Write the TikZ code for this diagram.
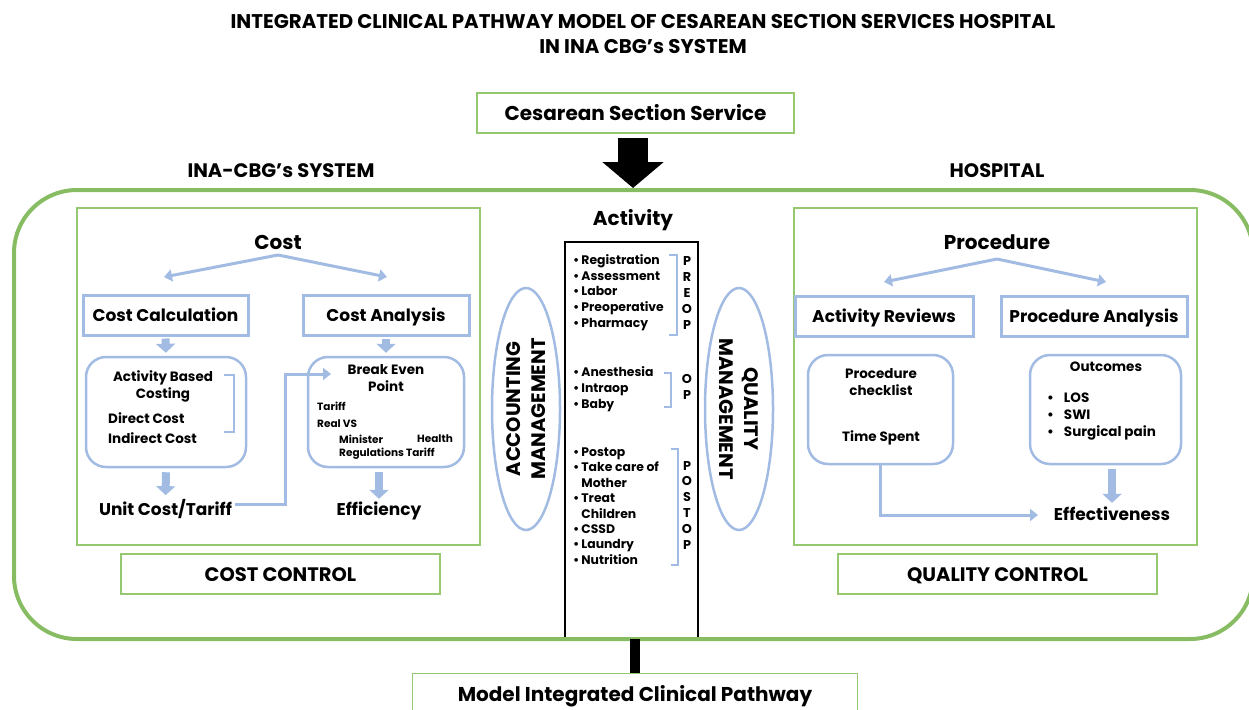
\documentclass[tikz,border=0pt]{standalone}
\usepackage{fontspec}
\setmainfont{Poppins}
\usetikzlibrary{arrows.meta,shapes.geometric}
\definecolor{gbig}{RGB}{136,188,98}
\definecolor{gthin}{RGB}{150,200,112}
\definecolor{lblue}{RGB}{162,187,226}
\newcommand{\bul}{\textbullet\hspace{2pt}}
\begin{document}
\begin{tikzpicture}[x=1pt,y=-1pt,
  sz/.style 2 args={minimum width=#1, minimum height=#2, inner sep=0pt},
  gbox/.style={draw=gthin, line width=1.2pt},
  bbox/.style={draw=lblue, line width=3pt, text height=12pt, text depth=0pt},
  rbox/.style={draw=lblue, line width=2.5pt, rounded corners=20pt},
  txt/.style={inner sep=0pt},
  bthin/.style={draw=lblue, line width=3pt, -{Triangle[length=8pt,width=12pt]}},
  bfat/.style={draw=lblue, line width=8pt, -{Triangle[length=9pt,width=19pt]}},
  blk/.style={draw=black, line width=30pt, -{Triangle[length=26pt,width=60pt]}},
  f20/.style={font=\fontsize{20}{24}\selectfont\bfseries},
  f195/.style={font=\fontsize{19.5}{23}\selectfont\bfseries},
  f165/.style={font=\fontsize{17}{20}\selectfont\bfseries},
  f135/.style={font=\fontsize{13.5}{17}\selectfont\bfseries},
  f105/.style={font=\fontsize{10.5}{15}\selectfont\bfseries},
  f12/.style={font=\fontsize{12.4}{15.75}\selectfont\bfseries},
]
\useasboundingbox (0,0) rectangle (1249,709);
% title
\node[txt, font=\fontsize{19.8}{25}\selectfont\bfseries, align=center] (title) at (643,34) {INTEGRATED CLINICAL PATHWAY MODEL OF CESAREAN SECTION SERVICES HOSPITAL\\IN INA CBG’s SYSTEM};
\node[gbox, sz={317}{40}, f20, text height=14pt, text depth=0pt] (ces) at (635.5,113) {Cesarean Section Service};
\node[txt, f195] (ina) at (281,171) {INA-CBG’s SYSTEM};
\node[txt, f195] (hosp) at (997,171) {HOSPITAL};
% center column frame (drawn first, bottom edge hidden under big box)
\node[sz={133}{397}] (col) at (631.5,440.5) {};
\draw[black, line width=2.5pt] (col.south west) -- (col.north west) -- (col.north east) -- (col.south east);
% big box
\node[draw=gbig, line width=4pt, rounded corners=63pt, sz={1239}{449}] (big) at (633.5,414.5) {};
\coordinate (arrTop) at (633,138);
\draw[blk] (arrTop) -- (arrTop |- big.north);
% left panel
\node[gbox, sz={403}{337}] (lpanel) at (278.5,376.5) {};
\node[txt, f20] (cost) at (278,242) {Cost};
\coordinate (costApex) at (278,255);
\coordinate (costL) at (164,277);
\coordinate (costR) at (387,277);
\draw[bthin] (costApex) -- (costL);
\draw[bthin] (costApex) -- (costR);
\node[bbox, sz={165}{40}, f165] (calc) at (165.5,315) {Cost Calculation};
\node[bbox, sz={166}{40}, f165] (anal) at (386,315) {Cost Analysis};
\node[rbox, sz={160}{110}] (abc) at (166,412) {};
\node[rbox, sz={156}{110}] (bep) at (386,412) {};
\draw[bfat, shorten <=2pt, shorten >=3pt] (calc.south) -- (abc.north);
\draw[bfat, shorten <=2pt, shorten >=3pt] (anal.south) -- (abc.north -| anal.south);
\node[txt, f135, align=center] (abct) at (163,386) {Activity Based\\Costing};
\node[txt, f135, anchor=west] (dc) at (108,418) {Direct Cost};
\node[txt, f135, anchor=west] (ic) at (108,438) {Indirect Cost};
\draw[draw=lblue, line width=2.5pt] (224,375) -- (234,375) -- (234,432) -- (224,432);
\node[txt, f135, align=center] (bept) at (386,378) {Break Even\\Point};
\node[txt, f105, anchor=west] (tar) at (317,406) {Tariff};
\node[txt, f105, anchor=west] (rvs) at (317,424) {Real VS};
\node[txt, f105, anchor=west] (min) at (339,439) {Minister};
\node[txt, f105, anchor=west] (hea) at (417,439) {Health};
\node[txt, f105, anchor=west] (reg) at (339,454) {Regulations Tariff};
\node[txt, f165] (unit) at (165.5,509) {Unit Cost/Tariff};
\node[txt, f165, text height=12pt, text depth=0pt] (eff) at (379,509) {Efficiency};
\draw[bfat, shorten <=4pt, shorten >=4pt] (abc.south) -- (unit.north);
\draw[bfat, shorten <=4pt, shorten >=4pt] (eff.north |- bep.south) -- (eff.north);
\coordinate (bepIn) at (331,374);
\draw[bthin, line join=miter] ([xshift=3pt,yshift=5pt]unit.east) -- (285,504) |- (bepIn);
\node[gbox, sz={319}{40}, f195, text height=14pt, text depth=0pt] (cc) at (280.5,574) {COST CONTROL};
% center column
\node[txt, f20, text height=14pt, text depth=0pt] (act) at (633,218) {Activity};
\node[txt, f12, anchor=west, align=left] (g1) at (573,292.5) {\bul Registration\\\bul Assessment\\\bul Labor\\\bul Preoperative\\\bul Pharmacy};
\node[txt, anchor=west, align=left, font=\fontsize{12.4}{16}\selectfont\bfseries] (g2) at (573,389) {\bul Anesthesia\\\bul Intraop\\\bul Baby};
\node[txt, anchor=west, align=left, font=\fontsize{12.4}{15.45}\selectfont\bfseries] (g3) at (573,506) {\bul Postop\\\bul Take care of\\\phantom{\bul}Mother\\\bul Treat\\\phantom{\bul}Children\\\bul CSSD\\\bul Laundry\\\bul Nutrition};
\draw[draw=lblue, line width=1.8pt] (669,255) -- (677,255) -- (677,335) -- (669,335);
\draw[draw=lblue, line width=1.8pt] (664,373) -- (671,373) -- (671,407) -- (664,407);
\draw[draw=lblue, line width=1.8pt] (671,449) -- (678,449) -- (678,565) -- (671,565);
\node[txt, align=center, font=\fontsize{12.8}{16}\selectfont\bfseries] (l1) at (687,293) {P\\R\\E\\O\\P};
\node[txt, align=center, font=\fontsize{12.8}{16}\selectfont\bfseries] (l2) at (687,387) {O\\P};
\node[txt, align=center, font=\fontsize{12.8}{15.8}\selectfont\bfseries] (l3) at (687,505) {P\\O\\S\\T\\O\\P};
\node[ellipse, draw=lblue, line width=2.5pt, sz={68}{242}] (accE) at (526,409) {};
\node[ellipse, draw=lblue, line width=2.5pt, sz={68}{242}] (quaE) at (739,409) {};
\node[txt, rotate=90, align=center, font=\fontsize{19.5}{25}\selectfont\bfseries] (accT) at (accE) {ACCOUNTING\\MANAGEMENT};
\node[txt, rotate=-90, align=center, font=\fontsize{19.5}{25}\selectfont\bfseries] (quaT) at (quaE) {QUALITY\\MANAGEMENT};
% bottom
\node[gbox, sz={445}{50}, anchor=north] (model) at (635,673) {};
\node[txt, f20] (modelT) at (635,696) {Model Integrated Clinical Pathway};
\draw[black, line width=10pt] (col.south -| model.north) -- (model.north);
% right panel
\node[gbox, sz={403}{337}] (rpanel) at (995.5,376.5) {};
\node[txt, f20] (proc) at (997,242) {Procedure};
\coordinate (procApex) at (997,259);
\coordinate (procL) at (884,282);
\coordinate (procR) at (1106,282);
\draw[bthin] (procApex) -- (procL);
\draw[bthin] (procApex) -- (procR);
\node[bbox, sz={178}{40}, f165] (ar) at (884,316) {Activity Reviews};
\node[bbox, sz={186}{40}, f165] (pa) at (1094,316) {Procedure Analysis};
\node[rbox, sz={145}{109}] (pc) at (880.5,409.5) {};
\node[rbox, sz={151}{109}] (oc) at (1105.5,409.5) {};
\node[txt, f135, align=center] (pct) at (881,382) {Procedure\\checklist};
\node[txt, f135] (ts) at (881,438) {Time Spent};
\node[txt, f135] (oct) at (1106,367) {Outcomes};
\node[txt, anchor=west, align=left, font=\fontsize{13.5}{17}\selectfont\bfseries] (ocl) at (1047,417) {\textbullet\hspace{10pt}LOS\\\textbullet\hspace{10pt}SWI\\\textbullet\hspace{10pt}Surgical pain};
\node[txt, f165, text height=12pt, text depth=0pt] (effe) at (1112,514) {Effectiveness};
\draw[bfat, shorten <=4pt, shorten >=5pt] (effe.north |- oc.south) -- (effe.north);
\coordinate (effIn) at (1038,515);
\draw[bthin] (pc.south) -- (pc.south |- effIn) -- (effIn);
\node[gbox, sz={319}{40}, f195, text height=14pt, text depth=0pt] (qc) at (997.5,574) {QUALITY CONTROL};
\end{tikzpicture}
\end{document}
